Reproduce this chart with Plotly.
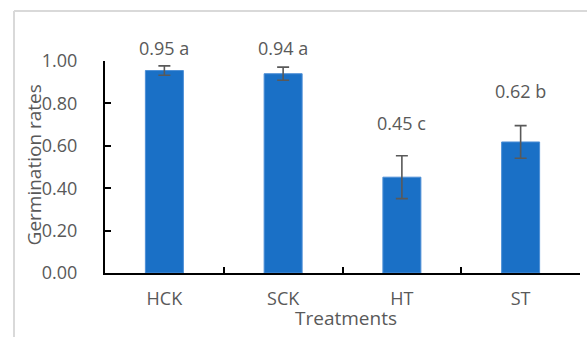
import plotly.graph_objects as go

categories = ["HCK", "SCK", "HT", "ST"]
rates = [0.955, 0.94, 0.452, 0.618]
errors = [0.022, 0.031, 0.101, 0.077]
labels = ["0.95 a", "0.94 a", "0.45 c", "0.62 b"]
y_ticks = [0.0, 0.2, 0.4, 0.6, 0.8, 1.0]

# style: pixel gap between error-bar top and label
label_gap = [4, 5, 19, 21]

FONT = "Open Sans"
GRAY = "#595959"
FRAME = "#d9d9d9"

fig = go.Figure()
fig.add_trace(go.Bar(
    x=categories, y=rates,
    marker=dict(color="#1a70c6", line=dict(color="#4d8fd6", width=1)),
    error_y=dict(type="data", array=errors, visible=True, color=GRAY, thickness=1.6, width=6),
    width=0.32,
))

for c, v, e, t, g in zip(categories, rates, errors, labels, label_gap):
    fig.add_annotation(x=c, y=v + e, text=t, showarrow=False, yanchor="bottom",
                       yshift=g, font=dict(family=FONT, size=18, color=GRAY))

fig.add_annotation(text="Germination rates", xref="paper", yref="paper",
                   x=-0.15, y=0.511, textangle=-90, showarrow=False,
                   xanchor="center", yanchor="middle",
                   font=dict(family=FONT, size=19, color=GRAY))
fig.add_annotation(text="Treatments", xref="paper", yref="paper",
                   x=0.508, y=-0.212, showarrow=False,
                   xanchor="center", yanchor="middle",
                   font=dict(family=FONT, size=19, color=GRAY))

# outer chart-area frame (top and left edges visible)
fig.add_shape(type="line", xref="paper", yref="paper",
              x0=-0.1916, x1=1.05, y0=1.236, y1=1.236,
              line=dict(color=FRAME, width=2))
fig.add_shape(type="line", xref="paper", yref="paper",
              x0=-0.1916, x1=-0.1916, y0=1.236, y1=-0.35,
              line=dict(color=FRAME, width=2))

fig.update_layout(
    width=587, height=337,
    margin=dict(l=105, r=7, t=61, b=64),
    paper_bgcolor="white", plot_bgcolor="white",
    showlegend=False,
    font=dict(family=FONT, color=GRAY),
)
fig.update_xaxes(showline=True, linecolor="black", linewidth=2,
                 ticks="inside", ticklen=6, tickcolor="black", tickwidth=1.5,
                 tickson="boundaries", showgrid=False,
                 tickfont=dict(family=FONT, size=18, color=GRAY),
                 ticklabelstandoff=8)
fig.update_yaxes(range=[0, 1], tickvals=y_ticks, tickformat=".2f",
                 showline=True, linecolor="black", linewidth=2,
                 ticks="inside", ticklen=6, tickcolor="black", tickwidth=1.5,
                 showgrid=False, zeroline=False,
                 tickfont=dict(family=FONT, size=18, color=GRAY),
                 ticklabelstandoff=22)

fig.write_html("out.html", config={"displayModeBar": False},
               post_script="document.body.style.margin='0';document.body.style.overflow='hidden';")
